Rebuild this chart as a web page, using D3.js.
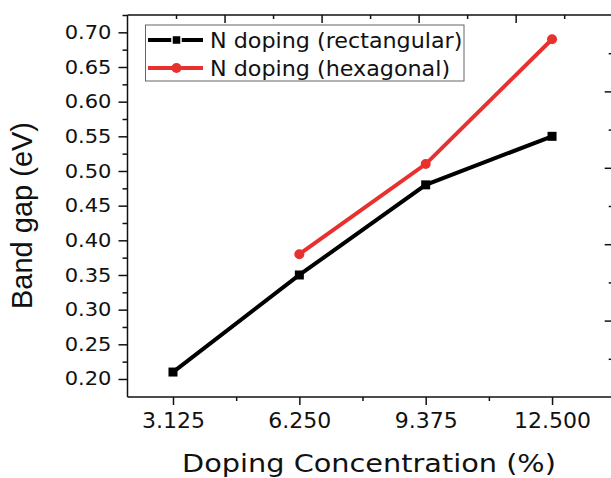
<!DOCTYPE html>
<meta charset="utf-8" />
<title>Band gap vs doping</title>
<style>
  body { margin: 0; background: #fff; }
  text { font-family: "DejaVu Sans", Verdana, sans-serif; fill: #111; }
  .domain, .tick line { stroke: #111; stroke-width: 1.5; }
</style>
<body>
<script src="https://d3js.org/d3.v7.min.js"></script>
<script>
  // data
  var concentrations = [3.125, 6.25, 9.375, 12.5];
  var rectGap = [0.21, 0.35, 0.48, 0.55];
  var hexConc = [6.25, 9.375, 12.5];
  var hexGap = [0.38, 0.51, 0.69];
  var yTicks = [0.20, 0.25, 0.30, 0.35, 0.40, 0.45, 0.50, 0.55, 0.60, 0.65, 0.70];
  var seriesNames = ["N doping (rectangular)", "N doping (hexagonal)"];
  var seriesColors = ["#000000", "#e8312f"];

  var W = 611, H = 478;
  var x0 = 127.5, x1 = 612.7, y0 = 15, y1 = 397;
  var stretch = 1.12; // the source picture is a bit wider than tall

  var svg = d3.select("body").append("svg").attr("width", W).attr("height", H);

  var x = d3.scaleLinear().domain([2, 14]).range([x0, x1]);
  var y = d3.scaleLinear().domain([0.174, 0.725]).range([y1, y0]);
  // top and right axes belong to another scale in the original figure
  var xTop = d3.scaleLinear().domain([0, 5]).range([x0, x1]);
  var yRight = d3.scaleLinear().domain([0, 5]).range([y1, y0]);

  // bottom axis
  var gx = svg.append("g").attr("transform", "translate(0," + y1 + ")")
    .call(d3.axisBottom(x).tickValues(concentrations).tickSize(8).tickPadding(7)
      .tickFormat(d3.format(".3f")));
  gx.selectAll(".tick text").attr("font-size", 22);
  gx.select(".domain").attr("d", "M" + x0 + ",0H" + x1);
  svg.append("g").attr("transform", "translate(0," + y1 + ")")
    .call(d3.axisBottom(x).tickValues([4.6875, 7.8125, 10.9375]).tickSize(4).tickFormat(""))
    .select(".domain").remove();

  // left axis
  var gy = svg.append("g").attr("transform", "translate(" + x0 + ",0)")
    .call(d3.axisLeft(y).tickValues(yTicks).tickSize(9).tickPadding(6)
      .tickFormat(d3.format(".2f")));
  gy.selectAll(".tick text").attr("font-size", 18.8)
    .attr("x", -16 / stretch).attr("transform", "scale(" + stretch + ",1)");
  gy.select(".domain").attr("d", "M0," + y0 + "V" + y1);
  svg.append("g").attr("transform", "translate(" + x0 + ",0)")
    .call(d3.axisLeft(y).tickValues(d3.range(0.225, 0.73, 0.05)).tickSize(5).tickFormat(""))
    .select(".domain").remove();

  // top axis (inward ticks)
  var gt = svg.append("g").attr("transform", "translate(0," + y0 + ")")
    .call(d3.axisBottom(xTop).tickValues([1, 2, 3, 4]).tickSize(8).tickFormat(""));
  gt.select(".domain").attr("d", "M" + x0 + ",0H" + x1);
  svg.append("g").attr("transform", "translate(0," + y0 + ")")
    .call(d3.axisBottom(xTop).tickValues([0.5, 1.5, 2.5, 3.5, 4.5]).tickSize(4).tickFormat(""))
    .select(".domain").remove();

  // right axis (inward ticks)
  svg.append("g").attr("transform", "translate(" + x1 + ",0)")
    .call(d3.axisLeft(yRight).tickValues([1, 2, 3, 4]).tickSize(8).tickFormat(""))
    .select(".domain").remove();
  svg.append("g").attr("transform", "translate(" + x1 + ",0)")
    .call(d3.axisLeft(yRight).tickValues([0.5, 1.5, 2.5, 3.5, 4.5]).tickSize(4).tickFormat(""))
    .select(".domain").remove();

  // axis titles
  svg.append("text").attr("transform", "translate(369,471.5) scale(1.15,1)")
    .attr("text-anchor", "middle").attr("font-size", 25)
    .text("Doping Concentration (%)");
  svg.append("text").attr("transform", "translate(31.5,215.5) rotate(-90)")
    .attr("text-anchor", "middle").attr("font-size", 29)
    .style("font-family", "'Liberation Sans', Arial, sans-serif")
    .text("Band gap (eV)");

  var line = d3.line().x(function(d) { return x(d[0]); }).y(function(d) { return y(d[1]); });
  var rectData = d3.zip(concentrations, rectGap);
  var hexData = d3.zip(hexConc, hexGap);

  svg.append("path").datum(rectData).attr("d", line)
    .attr("fill", "none").attr("stroke", seriesColors[0]).attr("stroke-width", 4);
  svg.append("path").datum(hexData).attr("d", line)
    .attr("fill", "none").attr("stroke", seriesColors[1]).attr("stroke-width", 4);

  svg.selectAll(".sq").data(rectData).enter().append("rect")
    .attr("x", function(d) { return x(d[0]) - 4.5; })
    .attr("y", function(d) { return y(d[1]) - 4.5; })
    .attr("width", 9).attr("height", 9).attr("fill", seriesColors[0]);
  svg.selectAll(".dot").data(hexData).enter().append("circle")
    .attr("cx", function(d) { return x(d[0]); })
    .attr("cy", function(d) { return y(d[1]); })
    .attr("r", 5).attr("fill", seriesColors[1]);

  // legend
  var lg = svg.append("g");
  lg.append("rect").attr("x", 145.5).attr("y", 25).attr("width", 318.5).attr("height", 56)
    .attr("fill", "#fff").attr("stroke", "#666").attr("stroke-width", 1);
  seriesNames.forEach(function(name, i) {
    var ly = 40 + i * 28;
    lg.append("line").attr("x1", 148).attr("x2", 203).attr("y1", ly).attr("y2", ly)
      .attr("stroke", seriesColors[i]).attr("stroke-width", 4);
    if (i === 0) {
      lg.append("rect").attr("x", 172).attr("y", ly - 4.5).attr("width", 9).attr("height", 9)
        .attr("fill", seriesColors[0]).attr("stroke", "#fff").attr("stroke-width", 1.5);
    } else {
      lg.append("circle").attr("cx", 176.5).attr("cy", ly).attr("r", 5).attr("fill", seriesColors[1]);
    }
    lg.append("text").attr("transform", "translate(210," + (ly + 8) + ") scale(1.08,1)")
      .attr("font-size", 20.6).text(name);
  });
</script>
</body>
